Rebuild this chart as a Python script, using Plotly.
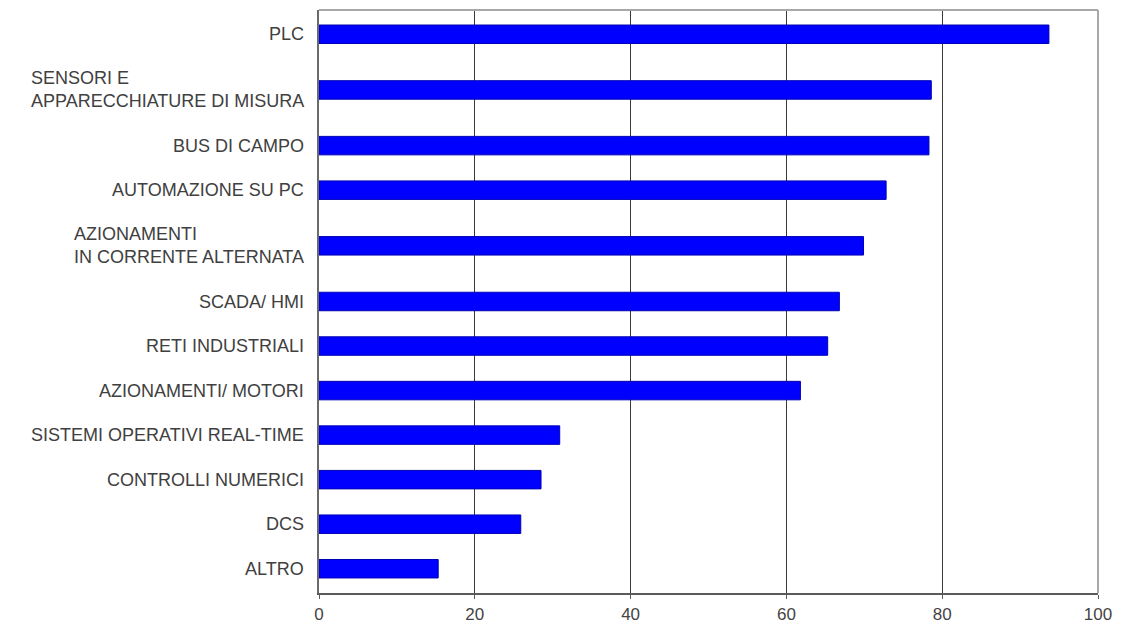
import plotly.graph_objects as go

# Categorie (dall'alto verso il basso) e percentuali
categorie = [
    "PLC",
    "SENSORI E<br>APPARECCHIATURE DI MISURA",
    "BUS DI CAMPO",
    "AUTOMAZIONE SU PC",
    "AZIONAMENTI<br>IN CORRENTE ALTERNATA",
    "SCADA/ HMI",
    "RETI INDUSTRIALI",
    "AZIONAMENTI/ MOTORI",
    "SISTEMI OPERATIVI REAL-TIME",
    "CONTROLLI NUMERICI",
    "DCS",
    "ALTRO",
]
valori = [93.7, 78.6, 78.3, 72.8, 69.9, 66.8, 65.3, 61.8, 30.9, 28.5, 25.9, 15.3]
tick_x = [0, 20, 40, 60, 80, 100]

FONT = "Liberation Sans, Arial, sans-serif"

# Righe con etichetta su due linee occupano più spazio verticale
altezze = [1 + 0.5 * c.count("<br>") for c in categorie]
posizioni = []
acc = 0.0
for h in altezze:
    posizioni.append(acc + h / 2)
    acc += h
totale = acc

fig = go.Figure(
    go.Bar(
        x=valori,
        y=posizioni,
        orientation="h",
        width=0.415,
        marker=dict(color="#0000ff", line=dict(color="#0000b4", width=1)),
        hoverinfo="x",
    )
)

# Etichette delle categorie, allineate a sinistra all'interno del blocco
for testo, y in zip(categorie, posizioni):
    fig.add_annotation(
        x=0, xref="paper", y=y, yref="y",
        text=testo, showarrow=False,
        xanchor="right", yanchor="middle", align="left",
        xshift=-13,
        font=dict(family=FONT, size=18, color="#404040"),
    )

# Bordo superiore e destro del riquadro
fig.add_shape(type="line", xref="paper", yref="paper", x0=0, x1=1, y0=1, y1=1,
              line=dict(color="#a8a8a8", width=2), layer="above")
fig.add_shape(type="line", xref="paper", yref="paper", x0=1, x1=1, y0=0, y1=1,
              line=dict(color="#a8a8a8", width=2), layer="above")

fig.update_xaxes(
    range=[0, 100],
    tickvals=tick_x,
    showgrid=True, gridcolor="#3a3a3a", gridwidth=1,
    showline=True, linecolor="#5a5a5a", linewidth=1.5,
    ticks="outside", ticklen=4, tickcolor="#5a5a5a",
    ticklabelstandoff=1,
    tickfont=dict(family=FONT, size=17, color="#444444"),
    zeroline=False,
    automargin=False,
)
fig.update_yaxes(
    range=[totale + 0.045, -0.045],
    showticklabels=False, showgrid=False, zeroline=False,
    showline=True, linecolor="#6a6a6a", linewidth=1.5,
    ticks="",
    automargin=False,
)

fig.update_layout(
    width=1133, height=624,
    margin=dict(l=319, r=35, t=10, b=31),
    plot_bgcolor="white", paper_bgcolor="white",
    showlegend=False,
    font=dict(family=FONT),
)

fig.write_html("out.html")
